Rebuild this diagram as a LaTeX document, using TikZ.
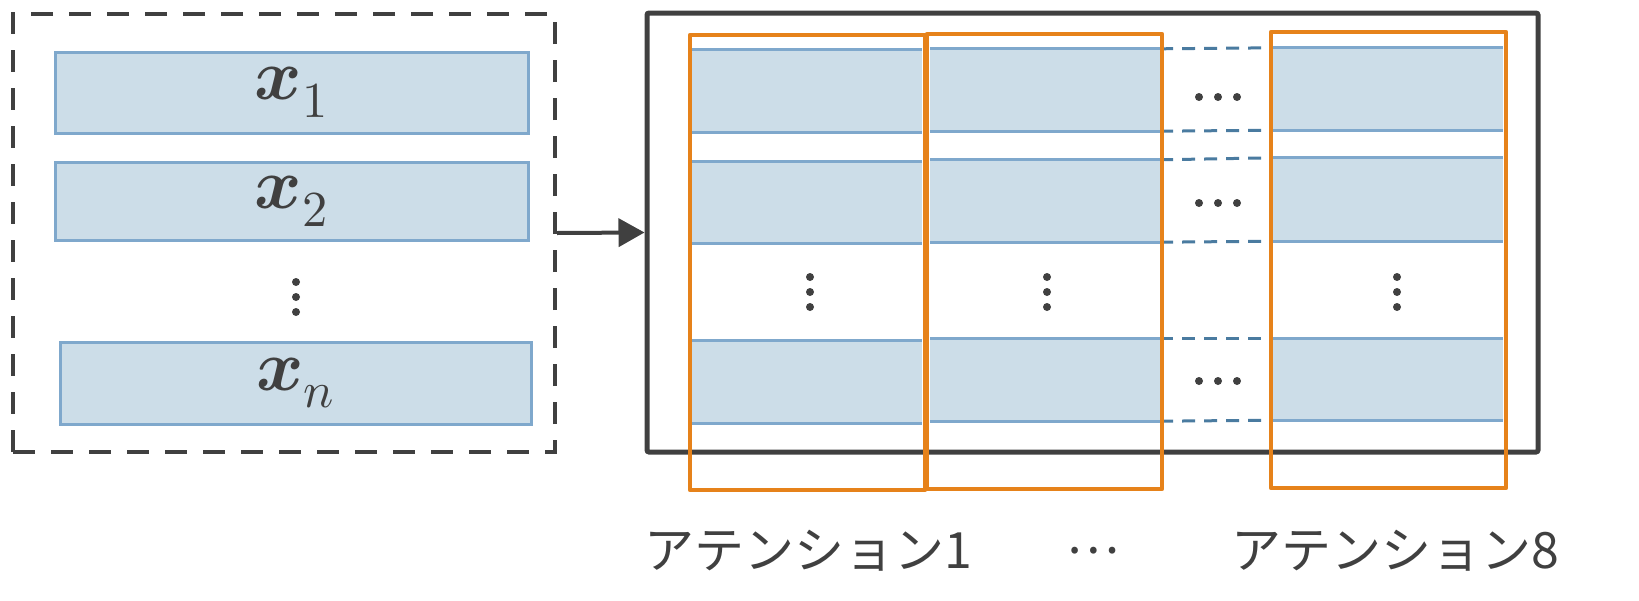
\documentclass[tikz,border=0pt]{standalone}
\usepackage{fontspec}
\usepackage{unicode-math}
\setmathfont{Latin Modern Math}
\newfontfamily\jpfont{Noto Sans CJK JP}
\usetikzlibrary{arrows.meta}
\definecolor{dk}{HTML}{404040}
\definecolor{bfill}{HTML}{CCDDE8}
\definecolor{bline}{HTML}{7FA8CC}
\definecolor{bdash}{HTML}{4A7BA0}
\definecolor{orng}{HTML}{E6821A}
\begin{document}
\begin{tikzpicture}[x=1pt,y=-1pt,
  inbox/.style={draw=dk,line width=4pt,dash pattern=on 22pt off 16pt,inner sep=0pt,minimum width=542pt,minimum height=438pt},
  outbox/.style={draw=dk,line width=5pt,rounded corners=2pt,inner sep=0pt,minimum width=891pt,minimum height=439pt},
  xbox/.style={draw=bline,fill=bfill,line width=3pt,inner sep=0pt,text=dk,font=\fontsize{72}{80}\selectfont},
  band/.style={fill=bfill,inner sep=0pt},
  bl/.style={draw=bline,line width=3pt},
  bd/.style={draw=bdash,line width=3pt,dash pattern=on 13pt off 9pt},
  obox/.style={draw=orng,line width=4.5pt,line join=round},
  lbl/.style={text=dk,font=\jpfont\fontsize{50}{56}\selectfont,inner sep=0pt},
  dotc/.style={fill=dk,draw=none}]
\useasboundingbox (0,0) rectangle (1639,600);
% left input box
\node[inbox] (in) at (284,233) {};
\node[xbox,minimum width=473pt,minimum height=81pt] (x1) at (291.5,92.5) {$\symbfit{x}_1$};
\node[xbox,minimum width=473pt,minimum height=78pt] (x2) at (291.5,201) {$\symbfit{x}_2$};
\node[xbox,minimum width=471pt,minimum height=82pt] (xn) at (295.5,383) {$\symbfit{x}_n$};
\foreach \yy in {282,297,312} \fill[dotc] (296,\yy) circle (4pt);
% output box
\node[outbox] (out) at (1092.5,232.5) {};
\draw[dk,line width=4pt,-{Triangle[length=26pt,width=28pt]}] (in.east) -- (out.west);
% bands column 1
\node[band,minimum width=230pt,minimum height=82pt] (a1) at (807,91) {};
\node[band,minimum width=230pt,minimum height=81pt] (a2) at (807,202.5) {};
\node[band,minimum width=230pt,minimum height=82pt] (a3) at (807,382) {};
% column 2
\node[band,minimum width=230pt,minimum height=82pt] (b1) at (1045,90) {};
\node[band,minimum width=230pt,minimum height=82pt] (b2) at (1045,201) {};
\node[band,minimum width=230pt,minimum height=82pt] (b3) at (1045,380) {};
% column 3
\node[band,minimum width=230pt,minimum height=82pt] (c1) at (1388,89) {};
\node[band,minimum width=230pt,minimum height=83pt] (c2) at (1388,199.5) {};
\node[band,minimum width=230pt,minimum height=81pt] (c3) at (1388,379.5) {};
\foreach \n in {a1,a2,a3,b1,b2,b3,c1,c2,c3}{
  \draw[bl] (\n.north west) -- (\n.north east);
  \draw[bl] (\n.south west) -- (\n.south east);
}
\foreach \n/\m in {b1/c1,b2/c2,b3/c3}{
  \draw[bd] (\n.north east) -- (\m.north west);
  \draw[bd] (\n.south east) -- (\m.south west);
}
% dots
\foreach \xx in {810,1047,1397} \foreach \yy in {277,292,307} \fill[dotc] (\xx,\yy) circle (4pt);
\foreach \yy in {97,203,381} \foreach \xx in {1199,1218,1237} \fill[dotc] (\xx,\yy) circle (4pt);
% orange boxes
\draw[obox] (690,35) rectangle (925,490);
\draw[obox] (927,34) rectangle (1162,489);
\draw[obox] (1271,32) rectangle (1506,488);
% labels
\node[lbl] (l1) at (808,551) {アテンション1};
\node[lbl] (ld) at (1093,551) {…};
\node[lbl] (l8) at (1395,551) {アテンション8};
\end{tikzpicture}
\end{document}
